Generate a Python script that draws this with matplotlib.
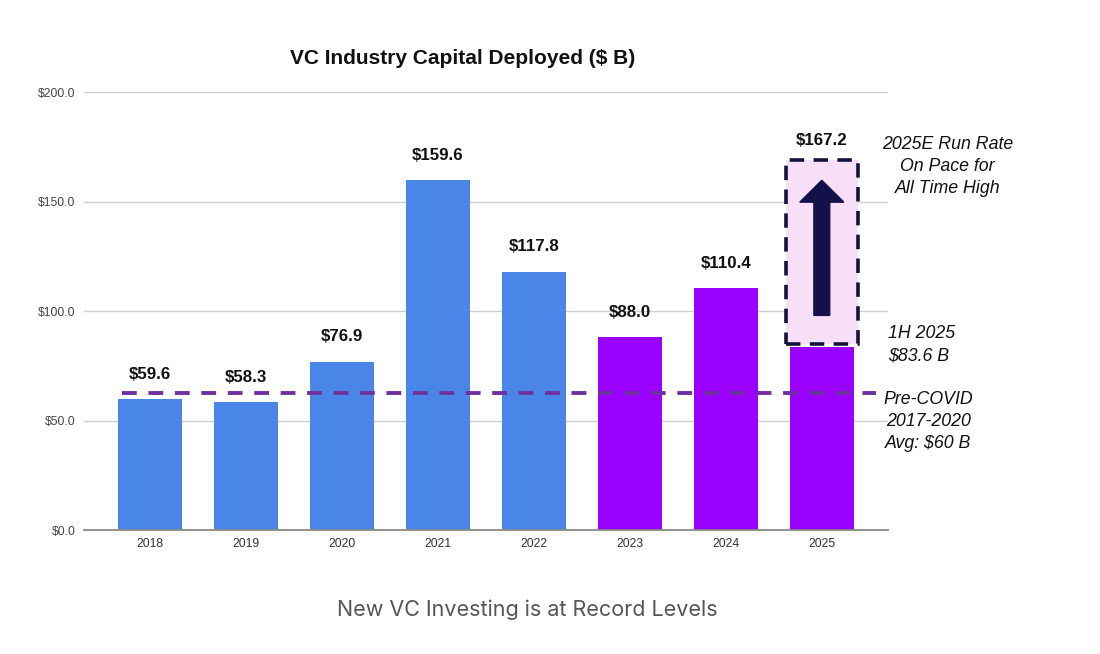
import matplotlib
matplotlib.use("Agg")
import matplotlib.pyplot as plt
from matplotlib.patches import Rectangle

years = ["2018", "2019", "2020", "2021", "2022", "2023", "2024", "2025"]
values = [59.6, 58.3, 76.9, 159.6, 117.8, 88.0, 110.4, 83.6]
bar_colors = ["#4a86e8"] * 5 + ["#9900ff"] * 3
run_rate_2025 = 167.2
precovid_avg = 62.6
yticks = [0, 50, 100, 150, 200]
ytick_labels = ["$0.0", "$50.0", "$100.0", "$150.0", "$200.0"]

plt.rcParams['font.family'] = ['Liberation Sans', 'DejaVu Sans']

fig = plt.figure(figsize=(11, 6.54), dpi=100)
ax = fig.add_axes([0.0764, 0.1896, 0.7307, 0.6697])

x = list(range(len(years)))
ax.bar(x, values, width=0.667, color=bar_colors, zorder=3)

ax.set_ylim(0, 200)
ax.set_xlim(-0.6875, 7.6875)
ax.set_yticks(yticks)
ax.set_yticklabels(ytick_labels, fontsize=8.7, color="#444444")
ax.set_xticks(x)
ax.set_xticklabels(years, fontsize=8.7, color="#333333")
ax.tick_params(length=0, pad=6)
ax.grid(axis="y", color="#d0d0d0", lw=1, zorder=0)
for s in ["top", "right", "left"]:
    ax.spines[s].set_visible(False)
ax.spines["bottom"].set_color("#888888")
ax.spines["bottom"].set_linewidth(1.3)
ax.spines["bottom"].set_zorder(4)

# value labels
for i, v in enumerate(values[:-1]):
    ax.text(i, v + 11.5, f"${v:.1f}", ha="center", va="center",
            fontsize=12.2, fontweight="bold", color="#111111")

# 2025 run-rate box
box = Rectangle((6.625, values[-1] + 1.5), 0.75, run_rate_2025 + 1.8 - values[-1] - 1.5,
                facecolor="#f8dff8", edgecolor="#12123a", lw=2.6,
                linestyle=(0, (4, 2.6)), zorder=4)
ax.add_patch(box)
ax.arrow(7, 98, 0, run_rate_2025 - 7.5 - 98, width=0.165, head_width=0.46,
         head_length=10, length_includes_head=True, color="#14114a", zorder=5)
ax.text(7, run_rate_2025 + 10.5, f"${run_rate_2025:.1f}", ha="center", va="center",
        fontsize=12.2, fontweight="bold", color="#111111")

# pre-COVID average line
ax.plot([-0.29, 7.56], [precovid_avg, precovid_avg], color="#7030a0", lw=2.8,
        linestyle=(0, (3.8, 3.0)), zorder=6, clip_on=False)

# annotations
ax.text(8.31, 166.0, "2025E Run Rate\nOn Pace for\nAll Time High", ha="center",
        va="center", fontsize=12.8, style="italic", color="#111111",
        linespacing=1.38, clip_on=False)
ax.text(7.69, 84.5, "1H 2025\n$83.6 B", ha="left", va="center", fontsize=12.8,
        style="italic", color="#111111", linespacing=1.38, clip_on=False)
ax.text(8.11, 49.5, "Pre-COVID\n2017-2020\nAvg: $60 B", ha="center", va="center",
        fontsize=12.8, style="italic", color="#111111", linespacing=1.38, clip_on=False)

fig.text(0.421, 0.911, "VC Industry Capital Deployed ($ B)", ha="center", va="center",
         fontsize=15, fontweight="bold", color="#111111")
fig.text(0.479, 0.067, "New VC Investing is at Record Levels", ha="center", va="center",
         fontsize=15.5, color="#555555", family=["Inter", "DejaVu Sans"])

fig.savefig("out.png", dpi=100, facecolor="white")
